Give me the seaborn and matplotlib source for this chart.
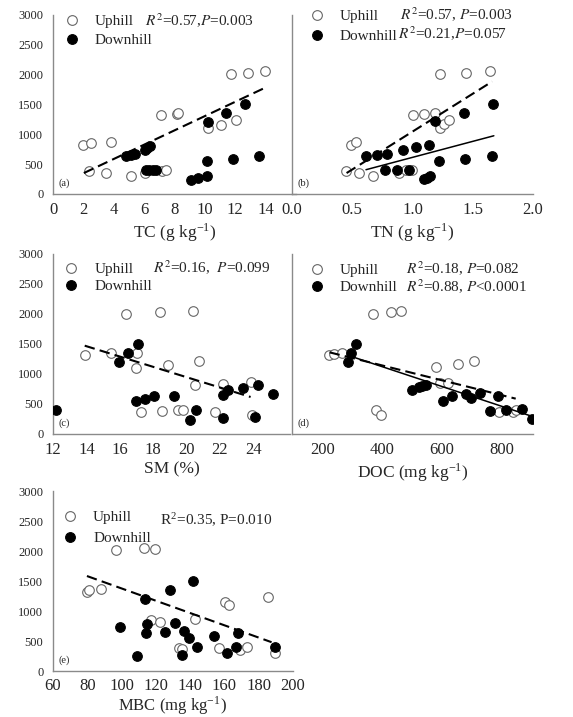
import matplotlib
matplotlib.use("Agg")
import matplotlib.pyplot as plt
import seaborn as sns
import pandas as pd
from matplotlib.lines import Line2D

sns.set_style("white")
plt.rcParams['font.family'] = ['Liberation Serif', 'DejaVu Serif']
plt.rcParams['mathtext.fontset'] = 'stix'

# ---------------- data ----------------
groups = ["Uphill", "Downhill"]
yticks = [0, 500, 1000, 1500, 2000, 2500, 3000]

# (a) TC
tc_up = [1.98, 2.47, 2.38, 3.85, 3.52, 5.11, 6.06, 7.09, 8.15, 8.26, 7.16, 7.44, 10.18, 11.08, 11.72, 12.82, 13.94, 12.03]
y_tc_up = [825, 853, 390, 864, 351, 307, 351, 1327, 1340, 1355, 390, 396, 1104, 1160, 2013, 2035, 2058, 1232]
tc_down = [4.80, 5.11, 5.40, 6.06, 6.17, 6.39, 6.10, 6.32, 6.56, 6.78, 9.07, 9.58, 10.13, 10.13, 10.18, 11.41, 12.62, 11.85, 13.57]
y_tc_down = [630, 652, 675, 742, 770, 797, 407, 407, 407, 407, 240, 268, 296, 546, 1204, 1355, 1505, 591, 641]
tc_fit_up = [2.03, 13.99]
y_tc_fit_up = [351, 1784]

# (b) TN
tn_up = [0.447, 0.489, 0.531, 0.558, 0.669, 0.889, 0.947, 0.994, 1.008, 1.097, 1.189, 1.231, 1.225, 1.258, 1.300, 1.442, 1.647]
y_tn_up = [390, 825, 864, 351, 307, 351, 396, 396, 1327, 1344, 1355, 2013, 1104, 1177, 1232, 2035, 2063]
tn_down = [0.614, 0.703, 0.789, 0.772, 0.869, 0.969, 0.919, 1.028, 1.139, 1.183, 1.222, 1.092, 1.119, 1.147, 1.431, 1.439, 1.669, 1.656]
y_tn_down = [641, 652, 675, 407, 407, 407, 742, 786, 814, 1216, 546, 251, 268, 296, 1355, 591, 1505, 636]
tn_fit_up = [0.453, 1.661]
y_tn_fit_up = [351, 1885]
tn_fit_down = [0.614, 1.675]
y_tn_fit_down = [407, 976]

# (c) SM
sm_up = [13.9, 15.5, 16.4, 17.06, 16.96, 18.4, 18.9, 17.3, 18.56, 19.5, 19.8, 20.36, 20.76, 20.5, 21.7, 22.16, 23.84, 23.9]
y_sm_up = [1322, 1350, 2006, 1350, 1100, 2028, 1156, 361, 378, 394, 394, 2056, 1222, 822, 361, 839, 861, 311]
sm_down = [12.2, 16.5, 15.96, 17.1, 16.96, 17.52, 18.04, 19.24, 20.2, 20.54, 22.2, 22.46, 22.16, 23.36, 24.1, 24.26, 25.2]
y_sm_down = [406, 1350, 1200, 1500, 544, 589, 628, 628, 239, 406, 656, 728, 267, 767, 283, 811, 672]
sm_fit_up = [13.9, 23.84]
y_sm_fit_up = [1472, 617]

# (d) DOC
doc_up = [220, 236, 264, 368, 429, 463, 377, 396, 578, 592, 620, 653, 706, 790, 838, 847]
y_doc_up = [1322, 1333, 1350, 2006, 2033, 2056, 394, 322, 1111, 850, 850, 1172, 1222, 361, 367, 406]
doc_down = [284, 295, 312, 500, 522, 534, 547, 603, 634, 679, 698, 726, 760, 788, 816, 869, 902]
y_doc_down = [1200, 1350, 1500, 728, 778, 806, 822, 544, 639, 667, 600, 683, 389, 639, 406, 417, 250]
doc_fit_up = [222, 847]
y_doc_fit_up = [1361, 589]
doc_fit_down = [284, 902]
y_doc_fit_down = [1311, 294]

# (e) MBC
mbc_up = [79.8, 81.0, 87.8, 96.6, 112.9, 119.3, 117.4, 122.2, 143.0, 133.5, 135.5, 156.8, 160.1, 162.7, 168.9, 173.2, 185.4, 189.3]
y_mbc_up = [1322, 1350, 1361, 2017, 2044, 2033, 850, 822, 861, 389, 360, 389, 1156, 1100, 350, 394, 1228, 306]
mbc_down = [99.3, 109.0, 113.9, 114.4, 115.1, 125.5, 128.0, 131.0, 136.2, 139.3, 135.4, 141.7, 144.2, 153.7, 161.7, 166.6, 168.0, 189.3]
y_mbc_down = [739, 250, 1194, 628, 778, 656, 1350, 806, 672, 544, 267, 1500, 406, 589, 294, 406, 639, 406]
mbc_fit_up = [79.8, 187.5]
y_mbc_fit_up = [1583, 480]

# ---------------- figure ----------------
W, H = 573, 717
fig = plt.figure(figsize=(W / 100, H / 100), dpi=100)

def add_ax(left, top, width, height):
    return fig.add_axes([left / W, 1 - (top + height) / H, width / W, height / H])

GRAY = '#8a8a8a'
EDGE = '#666666'
MS = 48

def style(ax, xlim, xticks, xlabel, show_ylabels, label, labelpad=2, xpad=3):
    ax.set_facecolor('none')
    ax.set_xlim(*xlim)
    ax.set_ylim(0, 3000)
    ax.set_xticks(xticks)
    ax.set_yticks(yticks)
    for s in ['top', 'right']:
        ax.spines[s].set_visible(False)
    for s in ['left', 'bottom']:
        ax.spines[s].set_color(GRAY)
        ax.spines[s].set_linewidth(1.0)
    ax.tick_params(axis='x', direction='out', length=3, width=0.8, color=GRAY, labelsize=12, pad=xpad)
    ax.tick_params(axis='y', direction='out', length=3, width=0.8, color=GRAY, labelsize=9, pad=4,
                   labelleft=show_ylabels)
    ax.set_xlabel(xlabel, fontsize=12.5, labelpad=labelpad)
    ax.set_ylabel('')
    ax.text(0.022, 0.035, label, transform=ax.transAxes, fontsize=7.5, ha='left', va='bottom')

def scatter(ax, xu, yu, xd, yd):
    sns.scatterplot(x=xu, y=yu, ax=ax, s=MS, color='white', edgecolor=EDGE, linewidth=0.8, legend=False, zorder=3)
    sns.scatterplot(x=xd, y=yd, ax=ax, s=MS, color='black', edgecolor='black', linewidth=0.8, legend=False, zorder=4)

def fitline(ax, x, y, dashed):
    if dashed:
        sns.lineplot(x=x, y=y, ax=ax, color='black', linewidth=1.5, linestyle=(0, (5, 2.5)), zorder=5)
    else:
        sns.lineplot(x=x, y=y, ax=ax, color='black', linewidth=1.1, zorder=5)

def legend(ax, x, y, spacing):
    h = [Line2D([], [], linestyle='none', marker='o', markersize=7, markerfacecolor='white',
                markeredgecolor=EDGE, markeredgewidth=0.8),
         Line2D([], [], linestyle='none', marker='o', markersize=7, markerfacecolor='black',
                markeredgecolor='black', markeredgewidth=0.8)]
    ax.legend(h, groups, loc='upper left', bbox_to_anchor=(x, y), frameon=False, fontsize=11,
              handlelength=1.0, handletextpad=1.0, labelspacing=spacing, borderpad=0, borderaxespad=0)

# (a)
ax = add_ax(53, 15, 243, 179)
scatter(ax, tc_up, y_tc_up, tc_down, y_tc_down)
fitline(ax, tc_fit_up, y_tc_fit_up, True)
style(ax, (0, 16), [0, 2, 4, 6, 8, 10, 12, 14], r'TC (g kg$^{\mathregular{-1}}$)', True, '(a)')
legend(ax, 0.045, 1.002, 0.32)
ax.text(92 / 243, 1 - 6 / 179, r'$R^2$=0.57,$P$=0.003', transform=ax.transAxes, fontsize=11, va='center')

# (b)
ax = add_ax(292, 15, 241, 179)
scatter(ax, tn_up, y_tn_up, tn_down, y_tn_down)
fitline(ax, tn_fit_up, y_tn_fit_up, True)
fitline(ax, tn_fit_down, y_tn_fit_down, False)
style(ax, (0, 2.0), [0.0, 0.5, 1.0, 1.5, 2.0], r'TN (g kg$^{\mathregular{-1}}$)', False, '(b)')
ax.xaxis.set_major_formatter(matplotlib.ticker.FormatStrFormatter('%.1f'))
legend(ax, 0.07, 1.032, 0.42)
ax.text(108 / 241, 1 - 0 / 179, r'$R^2$=0.57, $P$=0.003', transform=ax.transAxes, fontsize=11, va='center')
ax.text(106 / 241, 1 - 19 / 179, r'$R^2$=0.21,$P$=0.057', transform=ax.transAxes, fontsize=11, va='center')

# (c)
ax = add_ax(53, 254, 237, 180)
scatter(ax, sm_up, y_sm_up, sm_down, y_sm_down)
fitline(ax, sm_fit_up, y_sm_fit_up, True)
style(ax, (12, 26.2), [12, 14, 16, 18, 20, 22, 24], 'SM (%)', True, '(c)')
legend(ax, 0.045, 0.953, 0.22)
ax.text(100 / 237, 1 - 14 / 180, r'$R^2$=0.16,  $P$=0.099', transform=ax.transAxes, fontsize=11, va='center')

# (d)
ax = add_ax(292, 254, 241, 180)
scatter(ax, doc_up, y_doc_up, doc_down, y_doc_down)
fitline(ax, doc_fit_up, y_doc_fit_up, True)
fitline(ax, doc_fit_down, y_doc_fit_down, False)
style(ax, (96, 905), [200, 400, 600, 800], r'DOC (mg kg$^{\mathregular{-1}}$)', False, '(d)')
legend(ax, 0.07, 0.948, 0.22)
ax.text(114 / 241, 1 - 15 / 180, r'$R^2$=0.18, $P$=0.082', transform=ax.transAxes, fontsize=11, va='center')
ax.text(114 / 241, 1 - 33 / 180, r'$R^2$=0.88, $P$<0.0001', transform=ax.transAxes, fontsize=11, va='center')

# (e)
ax = add_ax(53, 491, 240, 180)
scatter(ax, mbc_up, y_mbc_up, mbc_down, y_mbc_down)
fitline(ax, mbc_fit_up, y_mbc_fit_up, True)
style(ax, (60, 200), [60, 80, 100, 120, 140, 160, 180, 200], r'MBC (mg kg$^{\mathregular{-1}}$)', True, '(e)',
      labelpad=0, xpad=2)
ax.xaxis.label.set_fontsize(12)
legend(ax, 0.04, 0.892, 0.5)
ax.text(107 / 240, 1 - 29 / 180, r'R$^{\mathregular{2}}$=0.35, P=0.010', transform=ax.transAxes, fontsize=11, va='center')

fig.savefig('out.png', dpi=100)
